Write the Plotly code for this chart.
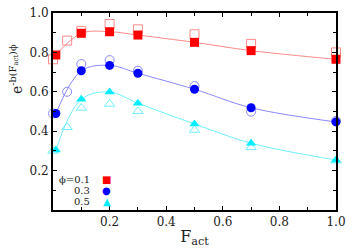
import plotly.graph_objects as go

x_filled = [0.01, 0.1, 0.2, 0.3, 0.5, 0.7, 1.0]
x_open = [0.0, 0.05, 0.1, 0.2, 0.3, 0.5, 0.7, 1.0]

red_filled = [0.787, 0.897, 0.905, 0.888, 0.851, 0.809, 0.765]
red_open = [0.765, 0.86, 0.909, 0.944, 0.917, 0.892, 0.843, 0.80]
blue_filled = [0.49, 0.707, 0.734, 0.694, 0.613, 0.519, 0.447]
blue_open = [0.49, 0.60, 0.741, 0.761, 0.707, 0.629, 0.499, 0.452]
cyan_filled = [0.305, 0.562, 0.599, 0.542, 0.437, 0.339, 0.254]
cyan_open = [0.30, 0.42, 0.518, 0.538, 0.501, 0.406, 0.318, 0.25]

series = [
    ("0.1", red_filled, red_open, "#ff0000", "#ff8a8a", "square", "■"),
    ("0.3", blue_filled, blue_open, "#0000ff", "#8a8aff", "circle", "●"),
    ("0.5", cyan_filled, cyan_open, "#00eeff", "#70f0ff", "triangle-up", "▲"),
]

FONT = "DejaVu Serif"
fig = go.Figure()
for name, yf, yo, col, lcol, sym, ch in series:
    fig.add_trace(go.Scatter(x=x_filled, y=yf, mode="lines",
                             line=dict(color=lcol, width=1, shape="spline", smoothing=1.0),
                             showlegend=False, hoverinfo="skip", cliponaxis=False))
    fig.add_trace(go.Scatter(x=x_open, y=yo, mode="markers", cliponaxis=False,
                             marker=dict(symbol=sym + "-open", size=9, color=lcol,
                                         line=dict(width=1, color=lcol)),
                             showlegend=False))
    fig.add_trace(go.Scatter(x=x_filled, y=yf, mode="markers", cliponaxis=False,
                             marker=dict(symbol=sym, size=9, color=col, line=dict(width=0)),
                             showlegend=False))

# legend-like annotations
labels = ["ϕ=0.1", "0.3", "0.5"]
for i, (name, yf, yo, col, lcol, sym, ch) in enumerate(series):
    ypix = 179 + i * 11
    yp = (210 - ypix) / 197
    fig.add_annotation(x=0.138, y=yp, xref="paper", yref="paper", text=labels[i],
                       showarrow=False, xanchor="right", yanchor="middle",
                       font=dict(family=FONT, size=10, color="#222"))
    fig.add_annotation(x=0.19, y=yp, xref="paper", yref="paper", text=ch,
                       showarrow=False, xanchor="center", yanchor="middle",
                       font=dict(family="DejaVu Sans", size=10, color=col))

axis_common = dict(showgrid=False, zeroline=False, mirror="allticks", ticks="inside",
                   ticklen=4, tickwidth=1, tickcolor="black", showline=True,
                   linecolor="black", linewidth=2, automargin=False,
                   tickfont=dict(family=FONT, size=12, color="#222"))
fig.update_xaxes(range=[0, 1.0], tickvals=[0.2, 0.4, 0.6, 0.8, 1.0],
                 ticktext=["0.2", "0.4", "0.6", "0.8", "1.0"],
                 minor=dict(tickvals=[0.1, 0.3, 0.5, 0.7, 0.9], ticks="inside", ticklen=3,
                            tickcolor="black"),
                 title=dict(text="F<sub>act</sub>", font=dict(family=FONT, size=16, color="#222"),
                            standoff=4),
                 **axis_common)
pad = "&nbsp;" * 19
fig.update_yaxes(range=[0, 1.0], tickvals=[0.2, 0.4, 0.6, 0.8, 1.0],
                 ticktext=["0.2", "0.4", "0.6", "0.8", "1.0"],
                 minor=dict(tickvals=[0.1, 0.3, 0.5, 0.7, 0.9], ticks="inside", ticklen=3,
                            tickcolor="black"),
                 title=dict(text=pad + "e<sup>-b(F<sub>act</sub>)ϕ</sup>",
                            font=dict(family=FONT, size=14, color="#222"), standoff=4),
                 **axis_common)
fig.update_layout(width=354, height=248, margin=dict(l=53, r=18, t=13, b=38),
                  plot_bgcolor="white", paper_bgcolor="white")
fig.write_html("out.html", config={"displayModeBar": False},
               post_script="document.body.style.margin='0';")
